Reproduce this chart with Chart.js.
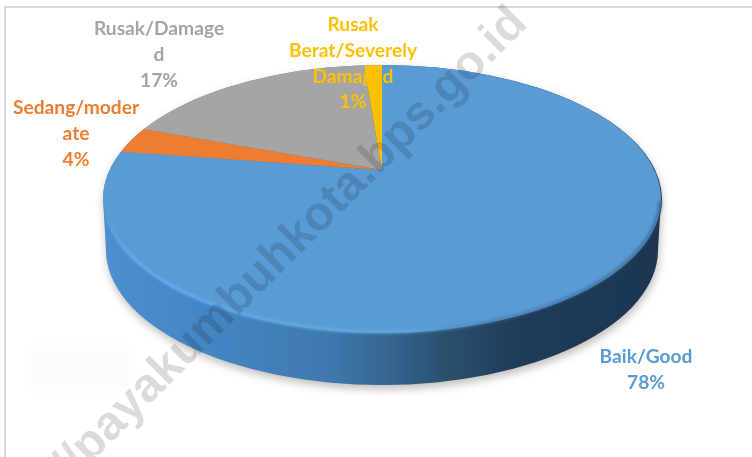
<!DOCTYPE html>
<html>
<head>
<meta charset="utf-8">
<style>
html,body{margin:0;padding:0;background:#fff;overflow:hidden}
#wrap{position:relative;width:752px;height:457px}
canvas{display:block;position:absolute;left:0;top:0}
</style>
<script src="https://cdn.jsdelivr.net/npm/chart.js@4/dist/chart.umd.min.js"></script>
</head>
<body>
<div id="wrap"><canvas id="c" width="752" height="457"></canvas></div>
<script>
const categories = ['Baik/Good', 'Sedang/moderate', 'Rusak/Damaged', 'Rusak Berat/Severely Damaged'];
const values = [78, 4, 17, 1];
const labelLines = [['Baik/Good'], ['Sedang/moder', 'ate'], ['Rusak/Damage', 'd'], ['Rusak', 'Berat/Severely', 'Damaged']];
const sliceColors = ['#5B9BD5', '#ED7D31', '#A5A5A5', '#FFC000'];
const watermark = 'http://payakumbuhkota.bps.go.id';

// Layout of the tilted pie (styling only)
const top_ = {cx: 382, cy: 199, rx: 279, ry: 134};
const bottom_ = {cx: 382, cy: 250, rx: 276, ry: 135};
const apex = {x: 382, y: 170};
const tilt = 0.365, grow = 2.2;
const labelAnchor = [{x: 646, y: 357}, {x: 76, y: 108}, {x: 159, y: 29}, {x: 353, y: 25}];
const lineStep = 25.7;

const frame = {
  id: 'frame',
  beforeDraw(chart) {
    const c = chart.ctx;
    c.save();
    c.fillStyle = '#fff';
    c.fillRect(0, 0, 752, 457);
    c.fillStyle = '#d9d9d9';
    c.fillRect(4, 6, 748, 2);
    c.fillRect(4, 6, 2, 451);
    // faint smudge at lower left
    c.filter = 'blur(4px)';
    c.fillStyle = 'rgba(0,0,0,0.012)';
    c.fillRect(28, 345, 100, 46);
    c.restore();
  }
};

function sidePath(c) {
  c.beginPath();
  c.ellipse(top_.cx, top_.cy, top_.rx, top_.ry, 0, Math.PI, 2 * Math.PI);
  c.lineTo(bottom_.cx + bottom_.rx, bottom_.cy);
  c.ellipse(bottom_.cx, bottom_.cy, bottom_.rx, bottom_.ry, 0, 0, Math.PI);
  c.closePath();
}

const tiltedPie = {
  id: 'tiltedPie',
  beforeDatasetsDraw(chart) {
    const c = chart.ctx;
    const arc = chart.getDatasetMeta(0).data[0];
    c.save();
    // soft shadow and extruded wall
    c.save();
    c.shadowColor = 'rgba(90,80,70,0.38)';
    c.shadowBlur = 9;
    c.shadowOffsetX = 1;
    c.shadowOffsetY = 4;
    const g = c.createLinearGradient(top_.cx - top_.rx, 0, top_.cx + top_.rx, 0);
    g.addColorStop(0, '#4d8fd0');
    g.addColorStop(0.23, '#4483c1');
    g.addColorStop(0.41, '#3f78ad');
    g.addColorStop(0.53, '#33618a');
    g.addColorStop(0.61, '#2b5070');
    g.addColorStop(0.75, '#1f3b58');
    g.addColorStop(1, '#1c3650');
    c.fillStyle = g;
    sidePath(c);
    c.fill();
    c.restore();
    // thin dark rim on the far right edge
    c.fillStyle = '#1d3853';
    c.beginPath();
    c.ellipse(top_.cx + 1, top_.cy + 0.5, top_.rx, top_.ry, 0, -0.7, 0.4);
    c.fill();
    // top face: the library's arcs, tilted and clipped to the ellipse
    c.beginPath();
    c.ellipse(top_.cx, top_.cy, top_.rx, top_.ry, 0, 0, 2 * Math.PI);
    c.clip();
    c.translate(apex.x, apex.y);
    c.scale(grow, grow * tilt);
    c.translate(-arc.x, -arc.y);
  },
  afterDatasetsDraw(chart) {
    const c = chart.ctx;
    c.restore();
    // bevel along the near edge
    c.save();
    c.filter = 'blur(1.6px)';
    const b = c.createLinearGradient(top_.cx - top_.rx, 0, top_.cx + top_.rx, 0);
    b.addColorStop(0, 'rgba(102,174,240,0)');
    b.addColorStop(0.05, 'rgba(102,174,240,0.9)');
    b.addColorStop(0.55, '#62a6e6');
    b.addColorStop(0.7, 'rgba(70,120,170,0.7)');
    b.addColorStop(1, 'rgba(50,90,130,0.7)');
    c.strokeStyle = b;
    c.lineWidth = 3;
    c.beginPath();
    c.ellipse(top_.cx, top_.cy - 1, top_.rx - 1, top_.ry, 0, 0.02, Math.PI * 0.95);
    c.stroke();
    c.restore();
  }
};

const sliceLabels = {
  id: 'sliceLabels',
  afterDraw(chart) {
    const c = chart.ctx;
    c.save();
    c.font = 'bold 19.2px Lato, "Open Sans", sans-serif';
    c.textAlign = 'center';
    c.textBaseline = 'middle';
    categories.forEach((name, i) => {
      const lines = labelLines[i].concat(values[i] + '%');
      c.fillStyle = sliceColors[i];
      lines.forEach((t, j) => c.fillText(t, labelAnchor[i].x, labelAnchor[i].y + j * lineStep));
    });
    c.restore();
    // watermark
    c.save();
    c.translate(529, 25);
    c.rotate(-Math.PI / 4);
    c.font = 'bold 48px "Liberation Sans", Arial, sans-serif';
    c.fillStyle = 'rgba(0,0,0,0.14)';
    c.textAlign = 'right';
    c.textBaseline = 'alphabetic';
    c.fillText(watermark, 0, 0);
    c.restore();
  }
};

new Chart(document.getElementById('c'), {
  type: 'pie',
  data: {
    labels: categories,
    datasets: [{data: values, backgroundColor: sliceColors, borderWidth: 0, clip: false}]
  },
  options: {
    responsive: false,
    animation: false,
    devicePixelRatio: 1,
    layout: {padding: 0},
    plugins: {legend: {display: false}, tooltip: {enabled: false}, title: {display: false}}
  },
  plugins: [frame, tiltedPie, sliceLabels]
});
</script>
</body>
</html>
